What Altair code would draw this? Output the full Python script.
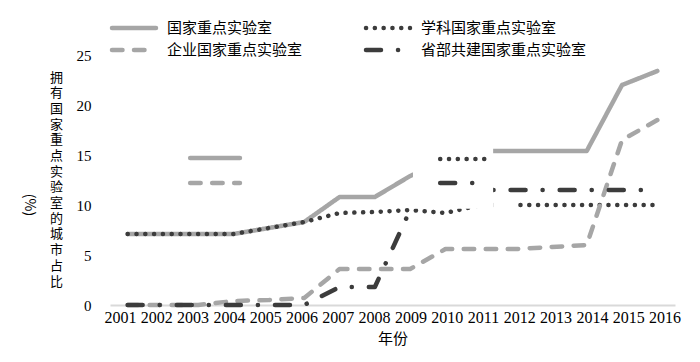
import altair as alt
import pandas as pd

years = list(range(2001, 2017))
series_names = ["国家重点实验室", "学科国家重点实验室", "企业国家重点实验室", "省部共建国家重点实验室"]
national = [7.1, 7.1, 7.1, 7.1, 7.7, 8.3, 10.8, 10.8, 12.9, 14.5, 15.4, 15.4, 15.4, 15.4, 22.0, 23.4]
subject = [7.1, 7.1, 7.1, 7.1, 7.7, 8.3, 9.2, 9.3, 9.5, 9.2, 10.0, 10.0, 10.0, 10.0, 10.0, 10.0]
enterprise = [0.0, 0.0, 0.0, 0.4, 0.5, 0.7, 3.6, 3.6, 3.6, 5.6, 5.6, 5.6, 5.8, 6.0, 16.5, 18.5]
provincial = [0.0, 0.0, 0.0, 0.0, 0.0, 0.0, 1.8, 1.8, 9.5, 11.5, 11.5, 11.5, 11.5, 11.5, 11.5, 11.5]

# leftover (blanked) legend box of the original figure, in data units
box_x = [2009.08, 2011.35]
box_x2 = [2011.35, 2012.0]
box_y = [9.62, 9.5]
box_y2 = [16.6, 10.8]
stub_series = ["国家重点实验室", "企业国家重点实验室", "学科国家重点实验室", "省部共建国家重点实验室"]
stub_x = [2002.77, 2002.77, 2009.85, 2009.85]
stub_x2 = [2004.18, 2004.18, 2011.22, 2011.22]
stub_y = [14.7, 12.2, 14.6, 12.2]

y_ticks = [0, 5, 10, 15, 20, 25]
x_tick_labels = [str(y) for y in years]

X_DOMAIN = [2000.5, 2016.5]
Y_DOMAIN = [0, 25]
W, H = 565, 250

rows = []
for name, vals in zip(series_names, [national, subject, enterprise, provincial]):
    for yr, v in zip(years, vals):
        rows.append({"year": yr, "value": v, "series": name})
df = pd.DataFrame(rows)
box_df = pd.DataFrame({"x": box_x, "x2": box_x2, "y": box_y, "y2": box_y2})
stub_df = pd.DataFrame({"series": stub_series, "x": stub_x, "x2": stub_x2, "y": stub_y})


def px_to_x(px):
    return X_DOMAIN[0] + px * (X_DOMAIN[1] - X_DOMAIN[0]) / W


def py_to_y(py):
    return Y_DOMAIN[1] - py * (Y_DOMAIN[1] - Y_DOMAIN[0]) / H


# legend layout above the plot, 2 columns, row-major
leg_rows = []
for i, name in enumerate(series_names):
    col, row = i % 2, i // 2
    lx = 2 + col * 254
    ly = -27 + row * 22
    leg_rows.append({"series": name, "x": px_to_x(lx), "x2": px_to_x(lx + 44),
                     "tx": px_to_x(lx + 55), "y": py_to_y(ly)})
leg_df = pd.DataFrame(leg_rows)

# year labels: the original spreads them slightly wider than the data points
lab_df = pd.DataFrame({
    "t": x_tick_labels,
    "x": [px_to_x(10.5 + 36.3 * k) for k in range(len(x_tick_labels))],
    "y": [py_to_y(H + 13)] * len(x_tick_labels),
})

GRAY = "#a6a6a6"
DARK = "#3c3c3c"
color_scale = alt.Scale(domain=series_names, range=[GRAY, DARK, GRAY, DARK])
dash_scale = alt.Scale(domain=series_names,
                       range=[[1, 0], [0.1, 8.7], [10.5, 11.5], [15, 17, 0.1, 17]])

xscale = alt.Scale(domain=X_DOMAIN, nice=False, zero=False)
yscale = alt.Scale(domain=Y_DOMAIN, nice=False)

ytitle = list("拥有国家重点实验室的城市占比")

xaxis = alt.Axis(values=years, format="d", title="年份", labels=False,
                 ticks=False, grid=False,
                 domainColor="#d9d9d9", domainWidth=2,
                 titleFont="Noto Sans CJK SC", titleFontSize=15,
                 titleFontWeight="normal", titleColor="#000", titlePadding=26)
yaxis = alt.Axis(values=y_ticks, title=ytitle, domain=False, ticks=False, grid=False,
                 labelOverlap=False,
                 labelFont="Liberation Serif", labelFontSize=15, labelColor="#000",
                 labelPadding=19, titleAngle=0, titleX=-54, titleY=16,
                 titleAlign="center", titleBaseline="top",
                 titleFont="Noto Sans CJK SC", titleFontSize=13, titleLineHeight=15.7,
                 titleFontWeight="normal", titleColor="#000")

lines = alt.Chart(df).mark_line(strokeWidth=4.5, strokeCap="round", strokeJoin="round").encode(
    x=alt.X("year:Q", scale=xscale, axis=xaxis),
    y=alt.Y("value:Q", scale=yscale, axis=yaxis),
    color=alt.Color("series:N", scale=color_scale, legend=None),
    strokeDash=alt.StrokeDash("series:N", scale=dash_scale, legend=None),
    order=alt.Order("year:Q"),
)

box = alt.Chart(box_df).mark_rect(color="white").encode(
    x=alt.X("x:Q", scale=xscale, axis=xaxis), x2="x2:Q",
    y=alt.Y("y:Q", scale=yscale, axis=yaxis), y2="y2:Q",
)

stubs = alt.Chart(stub_df).mark_rule(strokeWidth=4.5, strokeCap="round").encode(
    x=alt.X("x:Q", scale=xscale, axis=xaxis), x2="x2:Q",
    y=alt.Y("y:Q", scale=yscale, axis=yaxis),
    color=alt.Color("series:N", scale=color_scale, legend=None),
    strokeDash=alt.StrokeDash("series:N", scale=dash_scale, legend=None),
)

leg_sym = alt.Chart(leg_df).mark_rule(strokeWidth=4.5, strokeCap="round").encode(
    x=alt.X("x:Q", scale=xscale, axis=xaxis), x2="x2:Q",
    y=alt.Y("y:Q", scale=yscale, axis=yaxis),
    color=alt.Color("series:N", scale=color_scale, legend=None),
    strokeDash=alt.StrokeDash("series:N", scale=dash_scale, legend=None),
)

leg_txt = alt.Chart(leg_df).mark_text(
    align="left", baseline="middle", font="Noto Sans CJK SC", fontSize=15, color="#000"
).encode(
    x=alt.X("tx:Q", scale=xscale, axis=xaxis),
    y=alt.Y("y:Q", scale=yscale, axis=yaxis),
    text="series:N",
)

xlabels = alt.Chart(lab_df).mark_text(
    align="center", baseline="middle", font="Liberation Serif", fontSize=16, color="#000"
).encode(
    x=alt.X("x:Q", scale=xscale, axis=xaxis),
    y=alt.Y("y:Q", scale=yscale, axis=yaxis),
    text="t:N",
)

pct = alt.Chart(pd.DataFrame({"t": ["(%)"]})).mark_text(
    angle=90, font="Noto Sans CJK SC", fontSize=14, color="#000", align="center", baseline="middle"
).encode(text="t:N", x=alt.value(-81), y=alt.value(150))

chart = alt.layer(lines, box, stubs, leg_sym, leg_txt, xlabels, pct).properties(
    width=W, height=H,
    autosize=alt.AutoSizeParams(type="none"),
    padding={"left": 102, "top": 47, "right": 15, "bottom": 45},
    background="white",
).configure(
    view=alt.ViewConfig(stroke=None),
    axis=alt.AxisConfig(labelOverlap=False),
)

chart.save("out.html", embed_options={"renderer": "svg", "actions": False})
